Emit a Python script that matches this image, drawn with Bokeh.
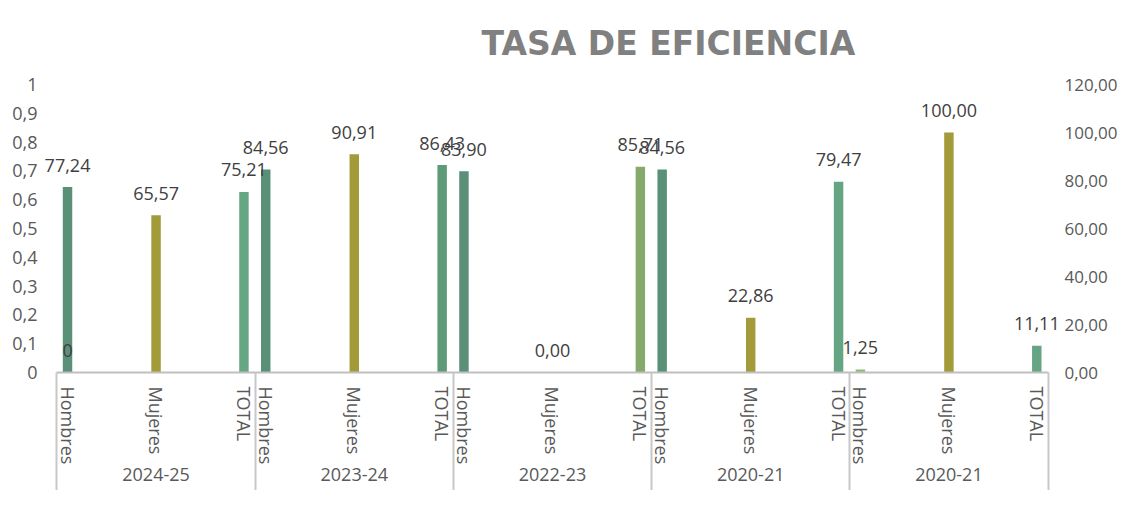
import math
from bokeh.plotting import figure
from bokeh.models import (Range1d, LinearAxis, FixedTicker, SingleIntervalTicker,
                          CustomJSTickFormatter, ColumnDataSource, LabelSet)
from bokeh.core.properties import value
from bokeh.embed import file_html
from bokeh.resources import INLINE

# ---------------- data ----------------
groups = ["2024-25", "2023-24", "2022-23", "2020-21", "2020-21"]
subcats = ["Hombres", "Mujeres", "TOTAL"]
tasa = [77.24, 65.57, 75.21,
        84.56, 90.91, 86.43,
        83.90, 0.00, 85.71,
        84.56, 22.86, 79.47,
        1.25, 100.00, 11.11]
primary_values = [0]          # series plotted on the left (0-1) axis, first category

# ---------------- styles ----------------
bar_colors = ["#5A8F78", "#A39A3A", "#67A682",
              "#5A8F78", "#A39A3A", "#5E9A78",
              "#5A8F78", "#A39A3A", "#86AA6C",
              "#5A8F78", "#A39A3A", "#66A583",
              "#8DBE70", "#A39A3A", "#66A583"]
FONT = "Open Sans"
n_sub = len(subcats)
offsets = [-0.34, 0.0, 0.33]
pad_left, pad_right = 0.249, 0.204   # room inside the plot area for the outer value labels

slots = list(range(len(tasa)))
bar_x = [k + 0.5 + offsets[k % n_sub] for k in slots]
labels = [f"{v:.2f}".replace(".", ",") for v in tasa]
sub_names = [subcats[k % n_sub] for k in slots]
boundaries = [g * n_sub for g in range(len(groups) + 1)]
group_centers = [g * n_sub + n_sub / 2 for g in range(len(groups))]

src = ColumnDataSource(dict(x=bar_x, top=tasa, label=labels, color=bar_colors))
psrc = ColumnDataSource(dict(x=[bar_x[0]], y=primary_values,
                             label=[str(v) for v in primary_values]))

p = figure(width=1120, height=490, output_backend="svg", toolbar_location=None, tools="",
           x_range=Range1d(-pad_left, len(tasa) + pad_right), y_range=Range1d(0, 120),
           y_axis_location="right", x_axis_location=None,
           min_border_left=40, min_border_right=55, min_border_top=84, min_border_bottom=118)
p.extra_y_ranges = {"pri": Range1d(0, 1)}
p.outline_line_color = None
p.grid.visible = False
p.background_fill_color = "white"
p.border_fill_color = "white"

# title
p.title.text = "TASA DE EFICIENCIA"
p.title.align = "left"
p.title.offset = 441
p.title.standoff = 43
p.title.text_font = "DejaVu Sans"
p.title.text_font_style = "bold"
p.title.text_font_size = "33px"
p.title.text_color = "#808080"

def style_y(ax, standoff, size):
    ax.axis_line_color = None
    ax.major_tick_line_color = None
    ax.minor_tick_line_color = None
    ax.major_tick_out = 0
    ax.major_tick_in = 0
    ax.major_label_text_font = FONT
    ax.major_label_text_font_size = size
    ax.major_label_text_color = "#595959"
    ax.major_label_standoff = standoff

# right axis (secondary 0-120)
ra = p.yaxis[0]
ra.ticker = SingleIntervalTicker(interval=20, num_minor_ticks=0)
ra.formatter = CustomJSTickFormatter(code="return tick.toFixed(2).replace('.', ',');")
style_y(ra, 3, "17px")

# left axis (primary 0-1)
la = LinearAxis(y_range_name="pri",
                ticker=SingleIntervalTicker(interval=0.1, num_minor_ticks=0),
                formatter=CustomJSTickFormatter(
                    code="return (Math.round(tick*10)/10).toString().replace('.', ',');"))
style_y(la, 3, "18px")
p.add_layout(la, "left")

# sub-category axis with group separators (separators drawn as outward minor ticks)
xa = LinearAxis(ticker=FixedTicker(ticks=bar_x, minor_ticks=boundaries),
                formatter=CustomJSTickFormatter(args=dict(names=sub_names),
                                                code="return names[Math.floor(tick)];"),
                major_label_orientation=-math.pi / 2,
                bounds=(0, len(tasa)))
xa.axis_line_color = "#BFBFBF"
xa.axis_line_width = 2
xa.major_tick_line_color = None
xa.major_tick_out = 0
xa.major_tick_in = 0
xa.minor_tick_line_color = "#C8C8C8"
xa.minor_tick_line_width = 2
xa.minor_tick_out = 0
xa.minor_tick_in = -120
xa.major_label_standoff = 14
xa.major_label_text_font = FONT
xa.major_label_text_font_size = "18px"
xa.major_label_text_color = "#595959"
p.add_layout(xa, "below")

# group axis
ga = LinearAxis(ticker=FixedTicker(ticks=group_centers),
                formatter=CustomJSTickFormatter(args=dict(names=groups, n=n_sub),
                                                code="return names[Math.floor(tick / n)];"))
ga.axis_line_color = None
ga.major_tick_line_color = None
ga.minor_tick_line_color = None
ga.major_tick_out = 0
ga.major_tick_in = 0
ga.major_label_standoff = 0
ga.major_label_text_font = FONT
ga.major_label_text_font_size = "18px"
ga.major_label_text_color = "#595959"
p.add_layout(ga, "below")

# bars
p.vbar(x="x", top="top", width=0.143, source=src, fill_color="color", line_color=None)

# value labels
p.add_layout(LabelSet(x="x", y="top", text="label", source=src,
                      text_align="center", text_baseline="middle", y_offset=22,
                      text_font=value(FONT), text_font_size="18px", text_color="#404040"))

# primary series label (left axis)
p.add_layout(LabelSet(x="x", y="y", text="label", source=psrc, y_range_name="pri",
                      text_align="center", text_baseline="middle", y_offset=22,
                      text_font=value(FONT), text_font_size="18px", text_color="#404040"))

open("out.html", "w").write(file_html(p, INLINE))
